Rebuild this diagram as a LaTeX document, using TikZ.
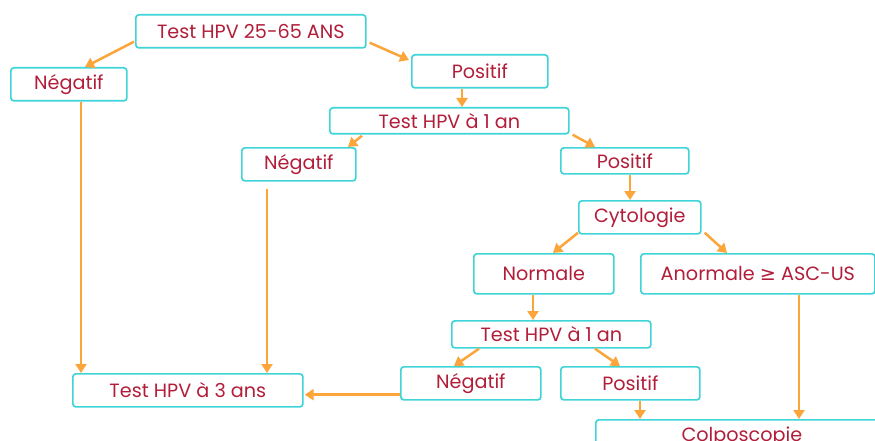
\documentclass[tikz,border=0pt]{standalone}
\usepackage{fontspec}
\setmainfont{Poppins}
\newfontfamily\symf{DejaVu Sans}
\usetikzlibrary{arrows.meta,calc}
\definecolor{bcyan}{RGB}{62,212,216}
\definecolor{tred}{RGB}{178,30,58}
\definecolor{aorange}{RGB}{251,165,58}
\begin{document}
\begin{tikzpicture}[x=1pt,y=-1pt,
 box/.style={draw=bcyan,line width=1.7pt,rounded corners=3pt,text=tred,font=\fontsize{19.2}{22}\selectfont,inner sep=0pt,anchor=north west,fill=white},
 arr/.style={draw=aorange,line width=2.5pt,-{Triangle[width=11pt,length=9pt]}}]
\useasboundingbox (0,0) rectangle (875,441);
\node[box,minimum width=230,minimum height=33] (n1) at (135,14) {Test HPV 25-65 ANS};
\node[box,minimum width=116,minimum height=33] (neg1) at (10,67) {Négatif};
\node[box,minimum width=136,minimum height=33] (pos1) at (411,54) {Positif};
\node[box,minimum width=239,minimum height=26] (t1) at (329,107) {Test HPV à 1 an};
\node[box,minimum width=114,minimum height=33] (neg2) at (241,147) {Négatif};
\node[box,minimum width=128,minimum height=26] (pos2) at (560,147) {Positif};
\node[box,minimum width=122,minimum height=33] (cyt) at (578,200) {Cytologie};
\node[box,minimum width=140,minimum height=40] (nor) at (473,253) {Normale};
\node[box,minimum width=234,minimum height=40] (anor) at (640,253) {Anormale {\symf ≥} ASC-US};
\node[box,minimum width=199,minimum height=27] (t2) at (451,320) {Test HPV à 1 an};
\node[box,minimum width=140,minimum height=33] (neg3) at (400,366) {Négatif};
\node[box,minimum width=139,minimum height=33] (pos3) at (560,366) {Positif};
\node[box,minimum width=292,minimum height=33] (colp) at (595,419) {Colposcopie};
\node[box,minimum width=230,minimum height=33] (t3) at (72,373) {Test HPV à 3 ans};
\draw[arr] ($(n1.south west)+(-1,-7)$) -- ($(neg1.north west)+(75,0)$);
\draw[arr] ($(n1.south east)+(3,-6)$) -- ($(pos1.north west)+(-2,6)$);
\draw[arr] ($(pos1.south west)+(51,0)$) -- ($(t1.north west)+(133,0)$);
\draw[arr] ($(t1.south west)+(33,1)$) -- ($(neg2.north west)+(107,0)$);
\draw[arr] ($(t1.south east)+(3,0)$) -- ($(pos2.north west)+(35,0)$);
\draw[arr] ($(pos2.south west)+(70,0)$) -- ($(cyt.north west)+(52,0)$);
\draw[arr] ($(cyt.south west)+(0,-2)$) -- ($(nor.north west)+(80,0)$);
\draw[arr] ($(cyt.south east)+(3,-2)$) -- ($(anor.north west)+(87,0)$);
\draw[arr] ($(nor.south west)+(60,0)$) -- ($(t2.north west)+(82,0)$);
\draw[arr] ($(t2.south west)+(28,0)$) -- ($(neg3.north west)+(54,0)$);
\draw[arr] ($(t2.south west)+(144,0)$) -- ($(pos3.north west)+(60,0)$);
\draw[arr] ($(pos3.south west)+(80,0)$) -- ($(colp.north west)+(45,0)$);
\draw[arr] ($(anor.south west)+(159,0)$) -- ($(colp.north west)+(204,0)$);
\draw[arr] ($(neg1.south west)+(71,0)$) -- ($(t3.north west)+(9,0)$);
\draw[arr] ($(neg2.south west)+(26,7)$) -- ($(t3.north west)+(195,0)$);
\draw[arr] ($(neg3.south west)+(0,-6)$) -- ($(t3.south east)+(1,-13)$);
\end{tikzpicture}
\end{document}
